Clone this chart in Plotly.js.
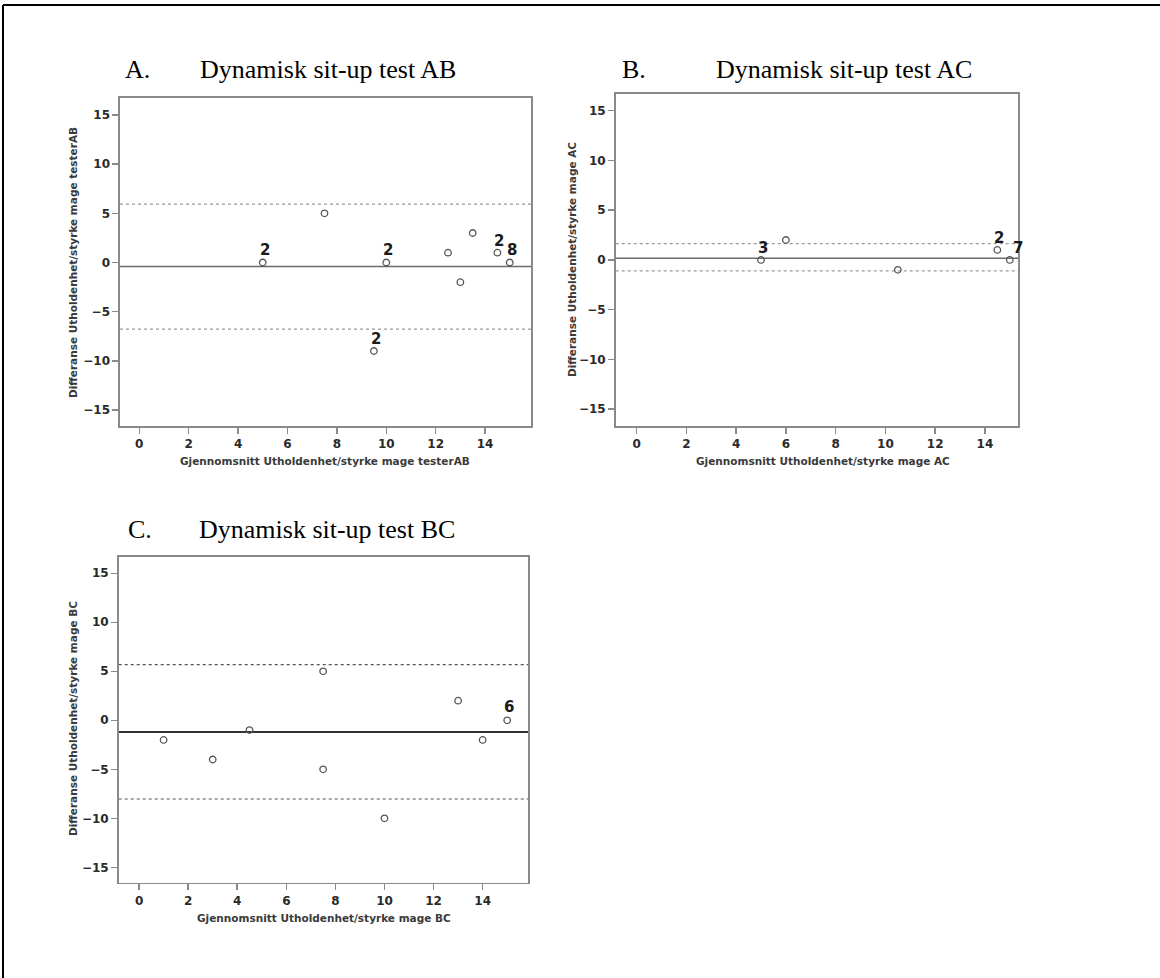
<!DOCTYPE html>
<html>
<head>
<meta charset="utf-8">
<script src="https://cdn.plot.ly/plotly-3.0.1.min.js"></script>
<style>
  html, body { margin: 0; padding: 0; background: #fff; }
  #chart { width: 1160px; height: 978px; }
</style>
</head>
<body>
<div id="chart"></div>
<script>
// ---------------- DATA ----------------
const panelLetters = ["A.", "B.", "C."];
const panelTitles = ["Dynamisk sit-up test AB", "Dynamisk sit-up test AC", "Dynamisk sit-up test BC"];
const xTitles = ["Gjennomsnitt Utholdenhet/styrke mage testerAB", "Gjennomsnitt Utholdenhet/styrke mage AC", "Gjennomsnitt Utholdenhet/styrke mage BC"];
const yTitles = ["Differanse Utholdenhet/styrke mage testerAB", "Differanse Utholdenhet/styrke mage AC", "Differanse Utholdenhet/styrke mage BC"];

// Panel A (AB): mean vs difference, n = overlapping count
const A_mean = [5, 7.5, 10, 9.5, 12.5, 13, 13.5, 14.5, 15];
const A_diff = [0, 5, 0, -9, 1, -2, 3, 1, 0];
const A_n    = [2, 1, 2, 2, 1, 1, 1, 2, 8];

// Panel B (AC)
const B_mean = [5, 6, 10.5, 14.5, 15];
const B_diff = [0, 2, -1, 1, 0];
const B_n    = [3, 1, 1, 2, 7];

// Panel C (BC)
const C_mean = [1, 3, 4.5, 7.5, 7.5, 10, 13, 14, 15];
const C_diff = [-2, -4, -1, 5, -5, -10, 2, -2, 0];
const C_n    = [1, 1, 1, 1, 1, 1, 1, 1, 6];

// Bland-Altman lines: mean difference and limits of agreement
const meanDiff = [-0.4, 0.17, -1.19];
const upperLoA = [5.94, 1.64, 5.68];
const lowerLoA = [-6.78, -1.1, -8.03];

const xTickVals = [0, 2, 4, 6, 8, 10, 12, 14];
const yTickVals = [-15, -10, -5, 0, 5, 10, 15];

// ---------------- LAYOUT HELPERS ----------------
const W = 1160, H = 978;
const px = v => v / W;
const py = v => 1 - v / H;

// pixel boxes of each plot frame [left, right, top, bottom]
const boxes = [
  [120, 531, 98, 426],
  [615.7, 1018, 94, 426],
  [118.7, 528.3, 556.7, 882.7]
];
const xRanges = [[-0.78, 15.86], [-0.84, 15.33], [-0.83, 15.86]];
const yRanges = [[-16.63, 16.73], [-16.7, 16.68], [-16.57, 16.69]];

const meanLineStyle = [
  {color: '#6a6a6a', width: 1.5},
  {color: '#6a6a6a', width: 1.5},
  {color: '#333333', width: 2}
];
const loaLineStyle = [
  {color: '#9a9a9a', width: 1.2, dash: 'dot'},
  {color: '#9a9a9a', width: 1.2, dash: 'dot'},
  {color: '#555555', width: 1.2, dash: 'dot'}
];
const countShift = [[2, 12], [2, 12], [2, 13]];

const series = [
  {x: A_mean, y: A_diff, n: A_n},
  {x: B_mean, y: B_diff, n: B_n},
  {x: C_mean, y: C_diff, n: C_n}
];

const tickFont = {family: 'DejaVu Sans', size: 12, color: '#2a2a2a', weight: 'bold'};
const titleFont = {family: 'DejaVu Sans', size: 10.5, color: '#3a3a3a', weight: 'bold'};
const headFont = {family: 'Liberation Serif', size: 26, color: '#000'};

const traces = [];
const layout = {
  width: W, height: H,
  margin: {l: 0, r: 0, t: 0, b: 0},
  paper_bgcolor: '#fff',
  plot_bgcolor: '#fff',
  showlegend: false,
  hovermode: false,
  shapes: [],
  annotations: []
};

// panel title positions (pixel) [letterX, textX, centerY]
const headPos = [[123, 197.5, 69], [620, 713.5, 69], [125.5, 197, 529]];
// axis title positions (pixel) [xTitleCenterX, xTitleY, yTitleX, yTitleCenterY]
const axTitlePos = [[324.5, 461, 73, 263], [823, 461, 572, 260], [324, 918, 73, 719]];

for (let i = 0; i < 3; i++) {
  const ax = i === 0 ? '' : String(i + 1);
  const b = boxes[i];
  layout['xaxis' + ax] = {
    domain: [px(b[0]), px(b[1])],
    anchor: 'y' + ax,
    range: xRanges[i],
    tickvals: xTickVals,
    ticks: 'outside', ticklen: 6, tickwidth: 1.5, tickcolor: '#8a8a8a',
    showline: true, mirror: true, linecolor: '#8a8a8a', linewidth: 1.6,
    showgrid: false, zeroline: false,
    tickfont: tickFont,
    fixedrange: true
  };
  layout['yaxis' + ax] = {
    domain: [py(b[3]), py(b[2])],
    anchor: 'x' + ax,
    range: yRanges[i],
    tickvals: yTickVals,
    ticks: 'outside', ticklen: 6, tickwidth: 1.5, tickcolor: '#8a8a8a',
    showline: true, mirror: true, linecolor: '#8a8a8a', linewidth: 1.6,
    showgrid: false, zeroline: false,
    tickfont: tickFont,
    fixedrange: true
  };

  // reference lines
  const xr = 'x' + ax, yr = 'y' + ax;
  layout.shapes.push({type: 'line', xref: xr + ' domain', yref: yr, x0: 0, x1: 1, y0: upperLoA[i], y1: upperLoA[i], line: loaLineStyle[i], layer: 'below'});
  layout.shapes.push({type: 'line', xref: xr + ' domain', yref: yr, x0: 0, x1: 1, y0: lowerLoA[i], y1: lowerLoA[i], line: loaLineStyle[i], layer: 'below'});
  layout.shapes.push({type: 'line', xref: xr + ' domain', yref: yr, x0: 0, x1: 1, y0: meanDiff[i], y1: meanDiff[i], line: meanLineStyle[i], layer: 'below'});

  const s = series[i];
  traces.push({
    type: 'scatter', mode: 'markers',
    x: s.x, y: s.y, xaxis: xr, yaxis: yr,
    marker: {symbol: 'circle-open', size: 6.5, color: '#555', line: {width: 1.3, color: '#555'}},
    cliponaxis: false
  });

  // overlapping-count labels
  s.n.forEach((n, k) => {
    if (n > 1) {
      layout.annotations.push({
        xref: xr, yref: yr, x: s.x[k], y: s.y[k],
        text: String(n), showarrow: false,
        xanchor: (i === 1 && k === s.n.length - 1) ? 'left' : 'center',
        xshift: (i === 1 && k === s.n.length - 1) ? 1 : countShift[i][0],
        yshift: countShift[i][1],
        font: {family: 'DejaVu Sans', size: 15, color: '#1a1a1a', weight: 'bold'}
      });
    }
  });

  // panel headings
  const hp = headPos[i];
  layout.annotations.push({xref: 'paper', yref: 'paper', x: px(hp[0]), y: py(hp[2]), xanchor: 'left', yanchor: 'middle', text: panelLetters[i], showarrow: false, font: headFont});
  layout.annotations.push({xref: 'paper', yref: 'paper', x: px(hp[1]), y: py(hp[2]), xanchor: 'left', yanchor: 'middle', text: panelTitles[i], showarrow: false, font: headFont});

  // axis titles
  const tp = axTitlePos[i];
  layout.annotations.push({xref: 'paper', yref: 'paper', x: px(tp[0]), y: py(tp[1]), xanchor: 'center', yanchor: 'middle', text: xTitles[i], showarrow: false, font: titleFont});
  layout.annotations.push({xref: 'paper', yref: 'paper', x: px(tp[2]), y: py(tp[3]), xanchor: 'center', yanchor: 'middle', text: yTitles[i], showarrow: false, textangle: -90, font: titleFont});
}

// outer document frame (top and left edges)
layout.shapes.push({type: 'line', xref: 'paper', yref: 'paper', x0: px(3), x1: 1, y0: py(5), y1: py(5), line: {color: '#000', width: 2}});
layout.shapes.push({type: 'line', xref: 'paper', yref: 'paper', x0: px(3), x1: px(3), y0: py(5), y1: 0, line: {color: '#000', width: 2}});

Plotly.newPlot('chart', traces, layout, {displayModeBar: false, staticPlot: true});
</script>
</body>
</html>
